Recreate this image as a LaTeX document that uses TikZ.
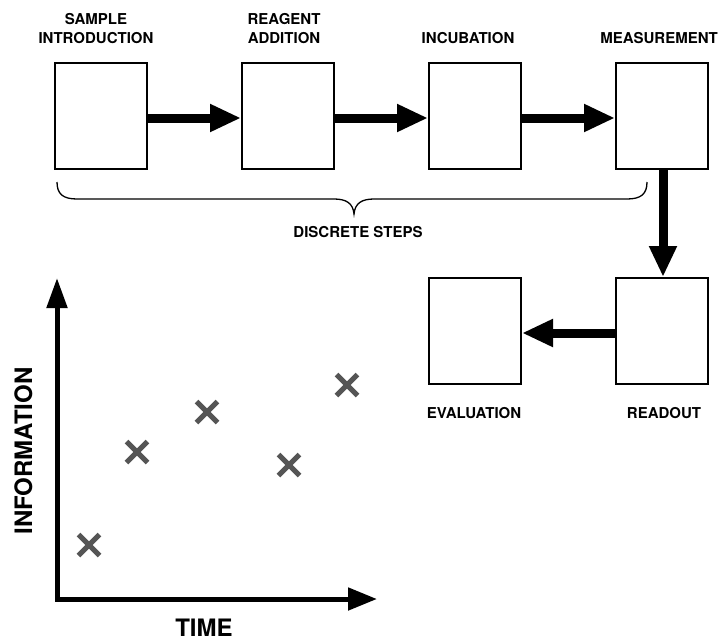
\documentclass[tikz,border=0pt]{standalone}
\usepackage{fontspec}
\setmainfont{TeX Gyre Heros}[BoldFont={* Bold}]
\usetikzlibrary{arrows.meta,shapes.misc}
\definecolor{markgray}{HTML}{555555}
\begin{document}
\begin{tikzpicture}[x=1pt,y=-1pt,
  stepbox/.style={draw,line width=2pt,minimum width=92pt,minimum height=106pt,inner sep=0pt},
  flow/.style={line width=9pt,-{Triangle[length=31pt,width=26pt]}},
  lbl/.style={font=\fontsize{15}{18.5}\selectfont\bfseries,align=center,inner sep=0pt,text depth=0pt},
  axislbl/.style={font=\fontsize{24}{28}\selectfont\bfseries,inner sep=0pt,text depth=0pt},
  axis/.style={line width=5pt,{Triangle[length=30pt,width=20pt]}-{Triangle[length=29pt,width=22pt]}},
  xmark/.style={cross out,draw=markgray,line width=5pt,minimum size=21pt,inner sep=0pt,outer sep=0pt}]
\useasboundingbox (0,0) rectangle (720,640);

% process steps
\node[stepbox] (intro)   at (101,116) {};
\node[stepbox] (reagent) at (288,116) {};
\node[stepbox] (incub)   at (475,116) {};
\node[stepbox] (meas)    at (662,116) {};
\node[stepbox] (readout) at (662,331) {};
\node[stepbox] (eval)    at (475,331) {};

% step labels
\node[lbl,anchor=base] (lintro)   at (96,43)  {SAMPLE\\INTRODUCTION};
\node[lbl,anchor=base] (lreagent) at (284,43) {REAGENT\\ADDITION};
\node[lbl,anchor=base] (lincub)   at (468,43) {INCUBATION};
\node[lbl,anchor=base] (lmeas)    at (659,43) {MEASUREMENT};
\node[lbl,anchor=base] (leval)    at (474,418) {EVALUATION};
\node[lbl,anchor=base] (lread)    at (664,418) {READOUT};

% flow arrows
\draw[flow] ([yshift=-2pt]intro.east)   -- ([yshift=-2pt]reagent.west);
\draw[flow] ([yshift=-2pt]reagent.east) -- ([yshift=-2pt]incub.west);
\draw[flow] ([yshift=-2pt]incub.east)   -- ([yshift=-2pt]meas.west);
\draw[flow] ([xshift=1pt]meas.south) -- ([xshift=1pt]readout.north);
\draw[flow] ([yshift=-2pt]readout.west) -- ([yshift=-2pt]eval.east);

% brace under the discrete steps
\coordinate (bl) at (57,182);
\coordinate (br) at (647,182);
\coordinate (bt) at (354,214);
\draw[line width=1.3pt]
  (bl) .. controls (57,194) and (63,199) .. (77,199) -- (334,199)
       .. controls (346,199) and (353,203) .. (bt)
       .. controls (355,203) and (362,199) .. (374,199) -- (627,199)
       .. controls (641,199) and (647,194) .. (br);
\node[lbl,anchor=base] (ldisc) at (358,237) {DISCRETE STEPS};

% information over time
\coordinate (ytop) at (57,278);
\coordinate (orig) at (57,599);
\coordinate (xend) at (377,599);
\draw[axis,line join=miter] (ytop) -- (orig) -- (xend);
\node[axislbl,anchor=base,rotate=90] (linfo) at (32,451) {INFORMATION};
\node[axislbl,anchor=base] (ltime) at (204,636) {TIME};

\node[xmark] (p1) at (89,545) {};
\node[xmark] (p2) at (137,452) {};
\node[xmark] (p3) at (207,412) {};
\node[xmark] (p4) at (289,465) {};
\node[xmark] (p5) at (347,385) {};
\end{tikzpicture}
\end{document}
